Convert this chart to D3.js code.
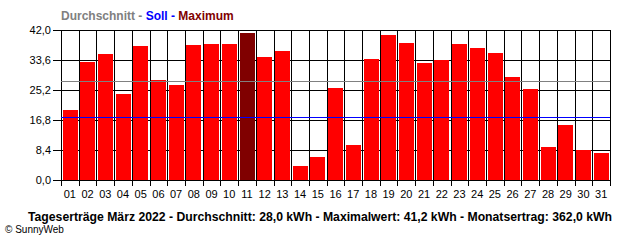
<!DOCTYPE html>
<html>
<head>
<meta charset="utf-8">
<script src="https://cdn.jsdelivr.net/npm/d3@7"></script>
<style>
  body { margin: 0; background: #fff; }
  svg { display: block; font-family: "Liberation Sans", Arial, sans-serif; }
</style>
</head>
<body>
<svg id="chart" width="640" height="240"></svg>
<script>
// Daily yields, March 2022 (kWh).
var days = ['01','02','03','04','05','06','07','08','09','10','11','12','13','14','15','16',
            '17','18','19','20','21','22','23','24','25','26','27','28','29','30','31'];
var yields = [19.7, 33.0, 35.3, 24.1, 37.5, 28.0, 26.6, 37.8, 38.1, 38.1, 41.2, 34.4, 36.1, 4.0, 6.5, 25.8,
              9.8, 33.9, 40.6, 38.4, 32.8, 33.6, 38.1, 37.0, 35.6, 28.8, 25.5, 9.3, 15.5, 8.4, 7.6];
var yTicks = [0, 8.4, 16.8, 25.2, 33.6, 42.0];
var average = 27.8;
var target = 17.6;

var legendParts = [
  { text: 'Durchschnitt - ', color: '#808080' },
  { text: 'Soll - ', color: '#0000ff' },
  { text: 'Maximum', color: '#800000' }
];
var caption = 'Tageserträge März 2022 - Durchschnitt: 28,0 kWh - Maximalwert: 41,2 kWh - Monatsertrag: 362,0 kWh';
var copyright = '© SunnyWeb';

var svg = d3.select('#chart');
var plotLeft = 61, plotRight = 610, plotTop = 30, plotBottom = 180;

var x = d3.scaleBand()
  .domain(days)
  .range([plotLeft, plotRight])
  .paddingInner(0.17)
  .paddingOuter(0.085);

var y = d3.scaleLinear()
  .domain([0, 42])
  .range([plotBottom, plotTop]);

var fmt = function(v) { return d3.format('.1f')(v).replace('.', ','); };
var step = x.step();
var maxVal = d3.max(yields);

// Horizontal grid lines with left ticks
svg.append('g')
  .selectAll('line')
  .data(yTicks)
  .enter().append('line')
    .attr('x1', plotLeft - 8)
    .attr('x2', plotRight)
    .attr('y1', function(d) { return Math.round(y(d)) + 0.5; })
    .attr('y2', function(d) { return Math.round(y(d)) + 0.5; })
    .attr('stroke', '#000')
    .attr('stroke-width', 1);

// Vertical grid lines at day boundaries, extending below as ticks
var bounds = d3.range(days.length + 1).map(function(i) { return plotLeft + i * step; });
svg.append('g')
  .selectAll('line')
  .data(bounds)
  .enter().append('line')
    .attr('x1', function(d) { return Math.round(d) + 0.5; })
    .attr('x2', function(d) { return Math.round(d) + 0.5; })
    .attr('y1', plotTop)
    .attr('y2', plotBottom + 6)
    .attr('stroke', '#000')
    .attr('stroke-width', 1);

// Bars
svg.append('g')
  .selectAll('rect')
  .data(yields)
  .enter().append('rect')
    .attr('x', function(d, i) { return Math.round(x(days[i])); })
    .attr('width', Math.round(x.bandwidth()))
    .attr('y', function(d) { return Math.round(y(d)); })
    .attr('height', function(d) { return plotBottom - Math.round(y(d)); })
    .attr('fill', function(d) { return d === maxVal ? '#800000' : '#ff0000'; });

// Average and target lines
svg.append('line')
  .attr('x1', plotLeft).attr('x2', plotRight)
  .attr('y1', Math.round(y(average)) + 0.5).attr('y2', Math.round(y(average)) + 0.5)
  .attr('stroke', '#808080').attr('stroke-width', 1);
svg.append('line')
  .attr('x1', plotLeft).attr('x2', plotRight)
  .attr('y1', Math.round(y(target)) + 0.5).attr('y2', Math.round(y(target)) + 0.5)
  .attr('stroke', '#0000ff').attr('stroke-width', 1);

// Bottom axis line
svg.append('line')
  .attr('x1', plotLeft).attr('x2', plotRight + 1)
  .attr('y1', plotBottom + 0.5).attr('y2', plotBottom + 0.5)
  .attr('stroke', '#000');

// Y labels
svg.append('g')
  .selectAll('text')
  .data(yTicks)
  .enter().append('text')
    .attr('x', plotLeft - 10)
    .attr('y', function(d) { return y(d) + 4; })
    .attr('text-anchor', 'end')
    .attr('font-size', 11)
    .text(fmt);

// X labels
svg.append('g')
  .selectAll('text')
  .data(days)
  .enter().append('text')
    .attr('x', function(d) { return x(d) + x.bandwidth() / 2; })
    .attr('y', 198)
    .attr('text-anchor', 'middle')
    .attr('font-size', 11)
    .text(function(d) { return d; });

// Legend title
var legend = svg.append('text')
  .attr('x', 61)
  .attr('y', 20)
  .attr('font-size', 12)
  .attr('font-weight', 'bold');
legend.selectAll('tspan')
  .data(legendParts)
  .enter().append('tspan')
    .attr('fill', function(d) { return d.color; })
    .text(function(d) { return d.text; });

// Caption
svg.append('text')
  .attr('x', 28)
  .attr('y', 221)
  .attr('font-size', 12)
  .attr('font-weight', 'bold')
  .attr('textLength', 584)
  .attr('lengthAdjust', 'spacingAndGlyphs')
  .text(caption);

svg.append('text')
  .attr('x', 5)
  .attr('y', 233)
  .attr('font-size', 10)
  .text(copyright);
</script>
</body>
</html>
